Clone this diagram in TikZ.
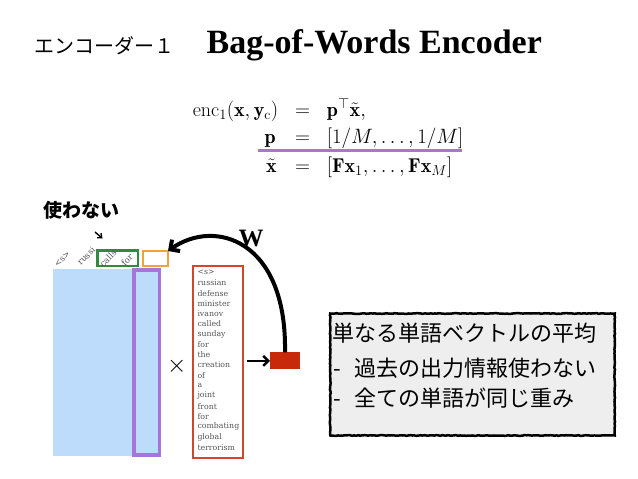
\documentclass[tikz,border=0pt]{standalone}
\usepackage{fontspec}
\usepackage{amsmath}
\newfontfamily\jpf{Noto Sans CJK JP}
\newfontfamily\timesf{Liberation Serif}
\newfontfamily\wordf{DejaVu Serif}
\usetikzlibrary{arrows.meta,decorations.pathmorphing}
\definecolor{lblue}{HTML}{BDDCFB}
\definecolor{purp}{HTML}{A575D9}
\definecolor{grn}{HTML}{2E8B40}
\definecolor{orng}{HTML}{F2A23A}
\definecolor{redb}{HTML}{D0482A}
\definecolor{redf}{HTML}{C8290A}
\definecolor{wgray}{HTML}{555555}
\definecolor{boxg}{HTML}{EEEEEE}
\tikzset{
  box/.style={inner sep=0pt, outer sep=0pt},
  wordlbl/.style={inner sep=0pt, anchor=west, font=\wordf\fontsize{7.8}{9}\selectfont, text=wgray},
  toplbl/.style={inner sep=0pt, rotate=45, font=\wordf\fontsize{8.5}{10}\selectfont, text=wgray},
  eqtext/.style={inner sep=0pt, font=\fontsize{20}{24}\selectfont},
  jpline/.style={inner sep=0pt, anchor=west, font=\jpf\fontsize{22}{26}\selectfont},
}
\begin{document}
\begin{tikzpicture}[x=1pt,y=-1pt]
\useasboundingbox (0,0) rectangle (638,479);
% title
\node[inner sep=0pt, anchor=west, font=\jpf\fontsize{20}{24}\selectfont] (ttl) at (34,46) {エンコーダー１};
\node[inner sep=0pt, anchor=base west, font=\timesf\bfseries\fontsize{34}{40}\selectfont] (bow) at (206.5,53) {Bag-of-Words Encoder};
% equations
\node[eqtext, anchor=base east] (l1) at (278.5,116) {$\mathrm{enc}_1(\mathbf{x},\mathbf{y}_{\mathrm{c}})$};
\node[eqtext, anchor=base] (e1) at (302.5,116) {$=$};
\node[eqtext, anchor=base west] (r1) at (326.7,116) {$\mathbf{p}^{\top}\tilde{\mathbf{x}},$};
\node[eqtext, anchor=base east] (l2) at (276,143.5) {$\mathbf{p}$};
\node[eqtext, anchor=base] (e2) at (302.5,143.5) {$=$};
\node[eqtext, anchor=base west] (r2) at (326.7,143.5) {$[1/M,\ldots,1/M]$};
\node[eqtext, anchor=base east] (l3) at (277,172) {$\tilde{\mathbf{x}}$};
\node[eqtext, anchor=base] (e3) at (302.5,172) {$=$};
\node[eqtext, anchor=base west] (r3) at (326.7,172) {$[\mathbf{F}\mathbf{x}_1,\ldots,\mathbf{F}\mathbf{x}_M]$};
\coordinate (u1) at (258.3,150.7);
\coordinate (u2) at (461.7,150.7);
\draw[purp, line width=3pt] (u1) -- (u2);
% left matrix
\node[box, fill=lblue, minimum width=107.3pt, minimum height=186.4pt] (mat) at (106.35,362.5) {};
\node[box, draw=purp, line width=3.3pt, fill=lblue, minimum width=25.3pt, minimum height=185pt] (col) at (146.65,362.5) {};
\node[box, draw=grn, line width=2.5pt, minimum width=40.5pt, minimum height=15.5pt] (gb) at (117.5,258.3) {};
\node[box, draw=orng, line width=2pt, minimum width=25.3pt, minimum height=14.7pt] (ob) at (155.35,258.35) {};
\node[toplbl] (t1) at (62.5,259.5) {<s>};
\node[toplbl] (t2) at (86.2,256.2) {russi};
\node[toplbl] (t3) at (108,258.5) {calls};
\node[toplbl] (t4) at (127,260) {for};
% label not used
\node[inner sep=0pt, font=\jpf\bfseries\fontsize{19}{22}\selectfont] (nu) at (81.7,210) {使わない};
\coordinate (sa1) at (95,232);
\coordinate (sa2) at (102.5,238.5);
\draw[line width=1.4pt, -{Straight Barb[length=3.5pt,width=6pt]}] (sa1) -- (sa2);
% times
\node[inner sep=0pt, font=\fontsize{28}{32}\selectfont] (tm) at (176.7,366) {$\times$};
% words box
\node[box, draw=redb, line width=2pt, minimum width=49.7pt, minimum height=192.3pt] (wb) at (218.15,362.15) {};
\foreach \w [count=\i from 0] in {<s>,russian,defense,minister,ivanov,called,sunday,for,the,creation,of,a,joint,front,for,combating,global,terrorism}{
  \node[wordlbl] (w\i) at (197.3,272.7+\i*10.27) {\w};
}
% result vector
\node[box, fill=redf, minimum width=30pt, minimum height=17pt] (vec) at (285,360.8) {};
\draw[line width=2.5pt, shorten <=4pt, -{Straight Barb[length=5pt,width=10pt]}] (wb.east |- vec.west) -- (vec.west);
% W arrow
\draw[line width=4pt, -{Straight Barb[length=7pt,width=14pt]}] (vec.north) .. controls (287,240) and (215,218) .. (ob.north east);
\node[inner sep=0pt, font=\timesf\bfseries\fontsize{25}{30}\selectfont] (W) at (251,238.5) {W};
% text box
\node[box, fill=boxg, minimum width=284.5pt, minimum height=122pt] (tb) at (472.5,374.5) {};
\draw[line width=2.5pt, decorate, decoration={random steps, segment length=2pt, amplitude=0.35pt}] (tb.north west) rectangle (tb.south east);
\node[jpline] (j1) at (332,333.3) {単なる単語ベクトルの平均};
\node[jpline] (j2) at (333,368.3) {-\hspace{14pt}過去の出力情報使わない};
\node[jpline] (j3) at (333,398.3) {-\hspace{14pt}全ての単語が同じ重み};
\end{tikzpicture}
\end{document}
